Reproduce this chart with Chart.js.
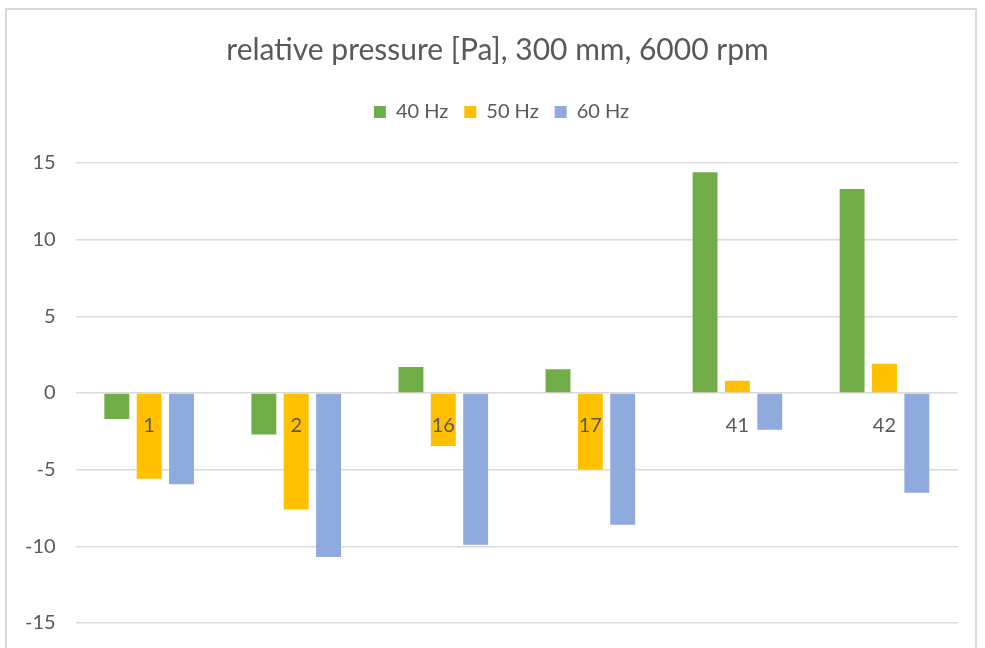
<!DOCTYPE html>
<html>
<head>
<meta charset="utf-8">
<script src="https://cdn.jsdelivr.net/npm/chart.js@4.4.0/dist/chart.umd.min.js"></script>
<style>
    html, body { margin: 0; padding: 0; background: #ffffff; overflow: hidden; }
    #frame {
        position: absolute; left: 5px; top: 8px;
        width: 972px; height: 660px;
        border: 2px solid #d9d9d9; box-sizing: border-box;
    }
    #wrap { position: absolute; left: 0; top: 0; width: 985px; height: 655px; }
</style>
</head>
<body>
<div id="frame"></div>
<div id="wrap"><canvas id="pressureChart"></canvas></div>
<script>
    // measuring points
    var categories = ["1", "2", "16", "17", "41", "42"];

    // relative pressure [Pa] per frequency
    var hz40 = [-1.7, -2.7, 1.7, 1.55, 14.4, 13.3];
    var hz50 = [-5.6, -7.6, -3.45, -5.0, 0.8, 1.9];
    var hz60 = [-5.95, -10.7, -9.9, -8.6, -2.4, -6.5];

    var seriesNames = ["40 Hz", "50 Hz", "60 Hz"];
    var yTicks = [-15, -10, -5, 0, 5, 10, 15];

    var textColor = "#595959";
    var gridColor = "#d9d9d9";
    var fontFamily = "Lato, 'Open Sans', sans-serif";

    function makeSet(label, values, color) {
        return {
            label: label,
            data: values,
            backgroundColor: color,
            borderWidth: 0,
            categoryPercentage: 0.66,
            barPercentage: 0.77
        };
    }

    // extra room under the legend, and title/legend centred on the frame
    var headerTweak = {
        id: "headerTweak",
        beforeInit: function (chart) {
            var fit = chart.legend.fit;
            chart.legend.fit = function () {
                fit.bind(chart.legend)();
                this.height += 31;
            };
        },
        afterLayout: function (chart) {
            chart.titleBlock.left += 32;
            chart.legend.left += 40;
        }
    };

    var ctx = document.getElementById("pressureChart").getContext("2d");

    var chart = new Chart(ctx, {
        type: "bar",
        data: {
            labels: categories,
            datasets: [
                makeSet(seriesNames[0], hz40, "#70ad47"),
                makeSet(seriesNames[1], hz50, "#ffc000"),
                makeSet(seriesNames[2], hz60, "#8faadc")
            ]
        },
        plugins: [headerTweak],
        options: {
            responsive: true,
            maintainAspectRatio: false,
            animation: false,
            layout: {
                padding: { top: 20, left: 5, right: 27, bottom: 18 }
            },
            plugins: {
                title: {
                    display: true,
                    text: "relative pressure [Pa], 300 mm, 6000 rpm",
                    color: textColor,
                    font: { family: fontFamily, size: 30, weight: "normal" },
                    padding: { top: 12, bottom: 18 }
                },
                legend: {
                    position: "top",
                    labels: {
                        color: textColor,
                        font: { family: fontFamily, size: 20 },
                        boxWidth: 12,
                        boxHeight: 12,
                        padding: 16
                    }
                },
                tooltip: { enabled: false }
            },
            scales: {
                x: {
                    position: { y: 0 },
                    afterFit: function (scale) {
                        scale.height = 0;
                    },
                    grid: { display: false, drawTicks: false },
                    border: { display: false },
                    ticks: {
                        z: 1,
                        color: textColor,
                        font: { family: fontFamily, size: 20 },
                        padding: 21
                    }
                },
                y: {
                    min: -15,
                    max: 15,
                    afterBuildTicks: function (scale) {
                        scale.ticks = yTicks.map(function (v) { return { value: v }; });
                    },
                    grid: { color: gridColor, lineWidth: 1.5, drawTicks: false },
                    border: { display: false },
                    ticks: {
                        color: textColor,
                        font: { family: fontFamily, size: 20 },
                        padding: 20
                    }
                }
            }
        }
    });
</script>
</body>
</html>
